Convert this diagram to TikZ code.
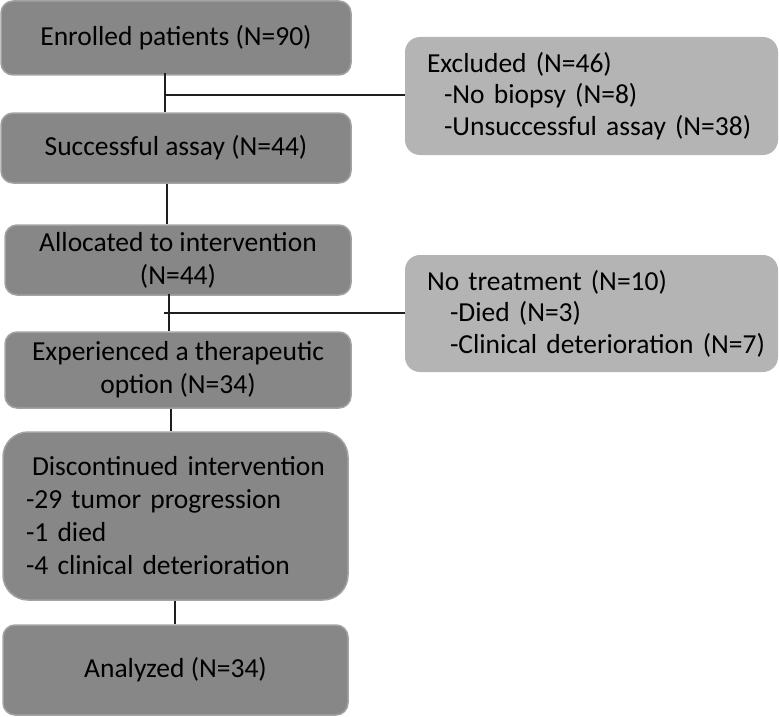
\documentclass[tikz,border=0pt]{standalone}
\usepackage{fontspec}
\setmainfont{Carlito}
\usetikzlibrary{calc}
\definecolor{mainfill}{HTML}{878787}
\definecolor{mainedge}{HTML}{A3A3A3}
\definecolor{sidefill}{HTML}{B4B4B4}
\definecolor{linec}{HTML}{1E1E1E}
\tikzset{
  mainbox/.style={draw=mainedge, line width=1.5pt, fill=mainfill, rounded corners=12pt,
    align=center, inner sep=0pt, font=\fontsize{27.5}{33}\selectfont, text=black},
  sidebox/.style={fill=sidefill, rounded corners=15pt, inner xsep=22pt, inner ysep=0pt,
    align=left, font=\fontsize{27.5}{31.5}\selectfont, text=black,
    minimum width=373pt, text width=329pt},
  conn/.style={draw=linec, line width=1.4pt}
}
\begin{document}
\begin{tikzpicture}[x=1pt,y=-1pt]
\useasboundingbox (0,0) rectangle (779,717);
\node[mainbox, minimum width=350pt, minimum height=74pt] (en) at (176,38) {Enrolled patients (N=90)};
\node[mainbox, minimum width=350pt, minimum height=70pt] (sa) at (176,148) {Successful assay (N=44)};
\node[mainbox, minimum width=346pt, minimum height=70pt] (al) at (178,260) {Allocated to intervention\\(N=44)};
\node[mainbox, minimum width=346pt, minimum height=76pt] (exo) at (178,370) {Experienced a therapeutic\\option (N=34)};
\node[mainbox, rounded corners=25pt, minimum width=345pt, minimum height=168pt,
  align=left, text width=299pt, inner xsep=23pt] (di) at (175.5,516)
  {\hspace*{6pt}Discontinued intervention\\-29 tumor progression\\-1 died\\-4 clinical deterioration};
\node[mainbox, minimum width=345pt, minimum height=90pt] (an) at (175.5,670) {Analyzed (N=34)};
\node[sidebox, minimum height=118pt] (exc) at (591.5,96)
  {Excluded (N=46)\\\hspace*{17pt}-No biopsy (N=8)\\\hspace*{17pt}\mbox{-Unsuccessful assay (N=38)}};
\node[sidebox, minimum height=117pt] (nt) at (591.5,313.5)
  {No treatment (N=10)\\\hspace*{23pt}-Died (N=3)\\\hspace*{23pt}\mbox{-Clinical deterioration (N=7)}};
% connectors
\coordinate (j1) at (165,95);
\draw[conn] ([xshift=-11pt,yshift=3pt]en.south) -- ([xshift=-11pt]sa.north);
\draw[conn] (j1) -- (j1 -| exc.west);
\draw[conn] ([xshift=-9pt]sa.south) -- ([xshift=-11pt]al.north);
\coordinate (j2) at (164,313);
\draw[conn] ([xshift=-9pt,yshift=2pt]al.south) -- ([xshift=-9pt]exo.north);
\draw[conn] (j2) -- (j2 -| nt.west);
\draw[conn] ([xshift=-7pt]exo.south) -- ([xshift=-4.5pt]di.north);
\draw[conn] ([xshift=-0.5pt]di.south) -- ([xshift=-0.5pt]an.north);
\end{tikzpicture}
\end{document}
